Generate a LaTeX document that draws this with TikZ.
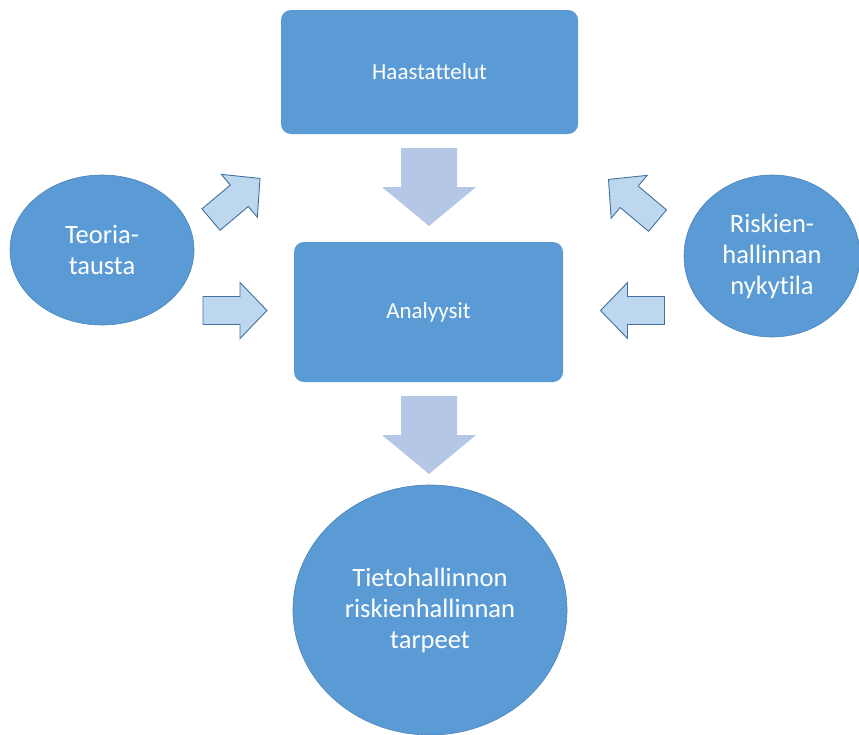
\documentclass[tikz,border=0pt]{standalone}
\usepackage{fontspec}
\setmainfont{Carlito}[Ligatures=NoCommon]
\usetikzlibrary{shapes.geometric}
\definecolor{boxblue}{HTML}{5B9BD5}
\definecolor{edgeblue}{HTML}{4A82B8}
\definecolor{sidefill}{HTML}{BDD7EE}
\definecolor{sideedge}{HTML}{41719C}
\definecolor{downfill}{HTML}{B4C7E7}
% block arrow: centre x, centre y, angle, length, shaft width, head width, head length, style
\newcommand\blkarrow[8]{%
  \begin{scope}[shift={(#1,#2)},rotate=#3]
    \path[#8] (-#4/2,-#5/2) -- (#4/2-#7,-#5/2) -- (#4/2-#7,-#6/2) -- (#4/2,0)
      -- (#4/2-#7,#6/2) -- (#4/2-#7,#5/2) -- (-#4/2,#5/2) -- cycle;
  \end{scope}}
\begin{document}
\begin{tikzpicture}[x=1pt,y=-1pt,
  stepbox/.style={rectangle,rounded corners=10pt,fill=boxblue,text=white,
    inner sep=0pt,font=\fontsize{23}{27}\selectfont},
  bubble/.style={ellipse,fill=boxblue,draw=edgeblue,line width=0.6pt,text=white,
    inner sep=0pt,align=center,font=\fontsize{26.5}{31}\selectfont},
  sidearrow/.style={fill=sidefill,draw=sideedge,line width=0.9pt,line join=miter},
  downarrow/.style={fill=downfill}]
\useasboundingbox (0,0) rectangle (859,734);

% main boxes
\node[stepbox,minimum width=297pt,minimum height=124pt] (haast) at (429.5,72) {Haastattelut};
\node[stepbox,minimum width=269pt,minimum height=140pt] (analyysit) at (428.5,312) {Analyysit};

% source and result bubbles
\node[bubble,minimum width=184pt,minimum height=150pt] (teoria) at (102,250) {Teoria-\\tausta};
\node[bubble,minimum width=176pt,minimum height=162pt] (nykytila) at (772,256) {Riskien-\\hallinnan\\nykytila};
\node[bubble,minimum width=274pt,minimum height=250pt] (tarpeet) at (430,610) {Tietohallinnon\\riskienhallinnan\\tarpeet};

% block arrows
\blkarrow{235.5}{199}{40}{64}{28}{56}{27}{sidearrow}
\blkarrow{235}{310.5}{0}{64}{28}{56}{27}{sidearrow}
\blkarrow{633}{200}{140}{64}{28}{56}{27}{sidearrow}
\blkarrow{632.5}{310.5}{180}{64}{28}{56}{27}{sidearrow}
\blkarrow{429}{187}{-90}{78}{56}{94}{39}{downarrow}
\blkarrow{429}{435}{-90}{78}{56}{94}{39}{downarrow}
\end{tikzpicture}
\end{document}
